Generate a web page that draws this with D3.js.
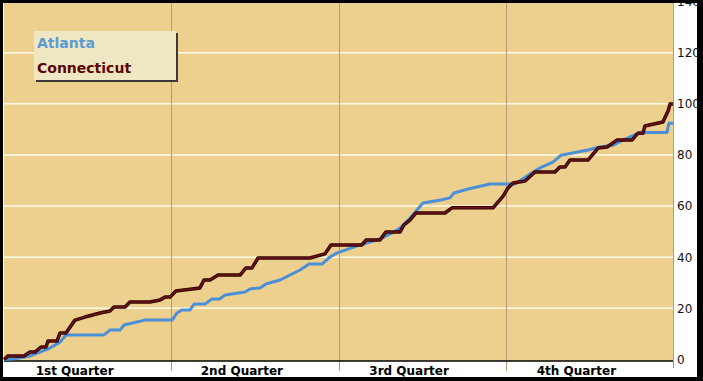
<!DOCTYPE html>
<html>
<head>
<meta charset="utf-8">
<script src="https://cdn.jsdelivr.net/npm/d3@7"></script>
<style>
  body { margin: 0; background: #fff; }
  svg { display: block; }
</style>
</head>
<body>
<div id="chart"></div>
<script>
// data (day of year, running total)
var quarterLabels = ["1st Quarter", "2nd Quarter", "3rd Quarter", "4th Quarter"];
var yTicks = [0, 20, 40, 60, 80, 100, 120, 140];
var seriesNames = ["Atlanta", "Connecticut"];

var atlantaDays = [0, 6, 14.2, 19.6, 25.1, 30.6, 33.8, 54.6, 57.8, 63.3, 65.5, 76.9, 91.7, 94.4, 97.1, 101.5, 103.7, 109.7, 113.5, 117.8, 120.6, 131.5, 134.2, 139.7, 142.9, 150.6, 161.5, 166.4, 173.5, 177.9, 181.7, 186.1, 194.2, 205.1, 211.7, 216.1, 221.5, 228.6, 238.4, 243.3, 245.5, 253.2, 265.1, 278.8, 288.6, 292.4, 299.5, 303.9, 318.6, 325.1, 332.3, 336.6, 347, 361.7, 362.8, 365];
var atlantaValues = [0, 0.3, 1.4, 2.9, 4.5, 6.8, 9.6, 9.6, 11.5, 11.5, 13.5, 15.4, 15.4, 18.2, 19.4, 19.4, 21.7, 21.7, 23.7, 23.7, 25.2, 26.4, 27.6, 28, 29.5, 31.1, 35, 37.3, 37.3, 40.1, 41.7, 42.8, 44.8, 47.1, 49.5, 51.4, 55.3, 61.2, 62.4, 63.2, 65.1, 66.7, 68.6, 68.6, 73.3, 74.9, 77.2, 79.9, 81.9, 83.1, 83.8, 85.4, 88.8, 88.8, 92.4, 92.4];

var connDays = [0, 2.2, 10.9, 14.2, 16.9, 20.2, 22.9, 24, 28.9, 30.6, 33.8, 38.7, 44.2, 52.4, 57.8, 60, 66, 68.7, 79.7, 85.1, 87.8, 90.6, 93.8, 106.9, 109.1, 112.4, 116.8, 128.8, 132, 135.3, 138.6, 166.9, 175.1, 178.4, 195.3, 197.5, 205.1, 208.4, 216.1, 218.2, 221.5, 224.8, 240.6, 244.4, 266.8, 272.3, 275, 277.7, 284.3, 289.7, 300.6, 303.3, 306.1, 308.8, 318.6, 324.1, 329, 334.4, 342.6, 345.9, 348.6, 349.7, 359.5, 362.3, 363.4, 365];
var connValues = [0, 1.4, 1.4, 2.9, 2.9, 4.9, 4.9, 7.2, 7.2, 10.4, 10.4, 15.4, 16.6, 18.2, 19, 20.5, 20.5, 22.5, 22.5, 23.3, 24.4, 24.4, 26.8, 28, 31.1, 31.1, 33, 33, 35.8, 35.8, 39.7, 39.7, 41.3, 44.8, 44.8, 46.7, 46.7, 49.9, 49.9, 52.6, 54.5, 57.3, 57.3, 59.3, 59.3, 63.9, 67.1, 69, 69.8, 73.3, 73.3, 75.3, 75.3, 78, 78, 82.7, 83.1, 85.8, 85.8, 88.5, 88.5, 91.3, 92.9, 97.2, 99.9, 99.9];

// set width and height
var svgWidth = 703;
var svgHeight = 381;

// plot area edges in pixels
var plot = { left: 4, right: 673, top: 1.5, bottom: 359.5 };

var svg = d3.select("#chart")
  .append("svg")
  .attr("width", svgWidth)
  .attr("height", svgHeight);

// scales
var xScale = d3.scaleLinear()
  .domain([0, 365])
  .range([plot.left, plot.right]);

var yScale = d3.scaleLinear()
  .domain([0, 140])
  .range([plot.bottom, plot.top]);

var quarterScale = d3.scaleBand()
  .domain(quarterLabels)
  .range([plot.left, plot.right]);

// white page
svg.append("rect")
  .attr("width", svgWidth)
  .attr("height", svgHeight)
  .attr("fill", "#fff");

// plot background
svg.append("rect")
  .attr("x", plot.left)
  .attr("y", 0)
  .attr("width", plot.right - plot.left)
  .attr("height", 361)
  .attr("fill", "#edd08e");

// horizontal gridlines
svg.append("g")
  .selectAll("line")
  .data(yTicks.slice(1))
  .enter()
  .append("line")
  .attr("x1", plot.left)
  .attr("x2", plot.right)
  .attr("y1", d => yScale(d))
  .attr("y2", d => yScale(d))
  .attr("stroke", "#fffbe8")
  .attr("stroke-width", 1.5);

// quarter separators
var bounds = quarterLabels.slice(1).map(q => quarterScale(q));
svg.append("g")
  .selectAll("line")
  .data(bounds)
  .enter()
  .append("line")
  .attr("x1", d => Math.round(d) + 0.5)
  .attr("x2", d => Math.round(d) + 0.5)
  .attr("y1", 0)
  .attr("y2", 371)
  .attr("stroke", "#b39a78")
  .attr("stroke-width", 1);

// right axis
var rightAxis = d3.axisRight(yScale)
  .tickValues(yTicks)
  .tickSize(0)
  .tickPadding(4);

var axisG = svg.append("g")
  .attr("transform", `translate(${plot.right}, 0)`)
  .call(rightAxis);
axisG.select(".domain").remove();
axisG.selectAll("text")
  .attr("font-family", "DejaVu Sans, Verdana, sans-serif")
  .attr("font-size", 12)
  .attr("fill", "#111");

svg.append("line")
  .attr("x1", plot.right + 0.5)
  .attr("x2", plot.right + 0.5)
  .attr("y1", 0)
  .attr("y2", 368)
  .attr("stroke", "#b39a78")
  .attr("stroke-width", 1);

// bottom axis line
svg.append("line")
  .attr("x1", plot.left)
  .attr("x2", plot.right)
  .attr("y1", 361)
  .attr("y2", 361)
  .attr("stroke", "#000")
  .attr("stroke-width", 1.5);

// quarter labels
svg.append("g")
  .selectAll("text")
  .data(quarterLabels)
  .enter()
  .append("text")
  .attr("x", d => quarterScale(d) + quarterScale.bandwidth() / 2 - 13)
  .attr("y", 375)
  .attr("text-anchor", "middle")
  .attr("font-family", "DejaVu Sans, Verdana, sans-serif")
  .attr("font-size", 12)
  .attr("font-weight", "bold")
  .attr("fill", "#000")
  .text(d => d);

// lines
var atlanta = atlantaDays.map((d, i) => [d, atlantaValues[i]]);
var conn = connDays.map((d, i) => [d, connValues[i]]);

var line = d3.line()
  .x(d => xScale(d[0]))
  .y(d => yScale(d[1]));

svg.append("path")
  .datum(atlanta)
  .attr("d", line)
  .attr("fill", "none")
  .attr("stroke", "#4b8fd8")
  .attr("stroke-width", 3)
  .attr("stroke-linejoin", "round");

svg.append("path")
  .datum(conn)
  .attr("d", line)
  .attr("fill", "none")
  .attr("stroke", "#2e0000")
  .attr("stroke-width", 3.5)
  .attr("stroke-linejoin", "round");

svg.append("path")
  .datum(conn)
  .attr("d", line)
  .attr("fill", "none")
  .attr("stroke", "#6e1414")
  .attr("stroke-width", 1.5)
  .attr("stroke-linejoin", "round");

// legend
var legend = svg.append("g");
legend.append("rect")
  .attr("x", 36)
  .attr("y", 33)
  .attr("width", 142)
  .attr("height", 49)
  .attr("fill", "#3a3a3a");
legend.append("rect")
  .attr("x", 34)
  .attr("y", 31)
  .attr("width", 142)
  .attr("height", 49)
  .attr("fill", "#efe7c1");

legend.selectAll("text")
  .data(seriesNames)
  .enter()
  .append("text")
  .attr("x", 37)
  .attr("y", (d, i) => 48 + i * 25)
  .attr("font-family", "DejaVu Sans, Verdana, sans-serif")
  .attr("font-size", 14)
  .attr("font-weight", "bold")
  .attr("fill", (d, i) => i === 0 ? "#5b9bd5" : "#5a0606")
  .text(d => d);

// black frame
svg.append("rect")
  .attr("x", 1.5)
  .attr("y", 1.5)
  .attr("width", svgWidth - 3)
  .attr("height", svgHeight - 3)
  .attr("fill", "none")
  .attr("stroke", "#000")
  .attr("stroke-width", 3);
svg.append("rect")
  .attr("x", 697)
  .attr("y", 0)
  .attr("width", 6)
  .attr("height", svgHeight)
  .attr("fill", "#000");
svg.append("rect")
  .attr("x", 0)
  .attr("y", 377)
  .attr("width", svgWidth)
  .attr("height", 4)
  .attr("fill", "#000");
</script>
</body>
</html>
